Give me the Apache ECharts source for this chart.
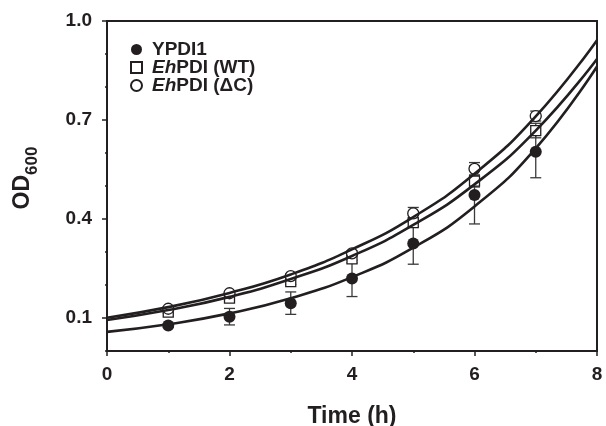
<!DOCTYPE html>
<html>
<head>
<meta charset="utf-8">
<script src="https://cdn.jsdelivr.net/npm/echarts@6/dist/echarts.min.js"></script>
<style>
  html, body { margin: 0; padding: 0; background: #fff; }
  #chart { width: 606px; height: 426px; }
</style>
</head>
<body>
<div id="chart"></div>
<script>
// measured points (mean +/- error)
var timeH = [1, 2, 3, 4, 5, 6, 7];
var ypdi1 = [0.077, 0.104, 0.145, 0.220, 0.326, 0.473, 0.604];
var ypdi1Err = [0.005, 0.025, 0.034, 0.055, 0.063, 0.088, 0.079];
var wt = [0.118, 0.160, 0.210, 0.279, 0.389, 0.515, 0.668];
var wtErr = [0.004, 0.006, 0.008, 0.012, 0.012, 0.018, 0.022];
var dc = [0.128, 0.175, 0.227, 0.296, 0.417, 0.552, 0.712];
var dcErr = [0.004, 0.005, 0.006, 0.008, 0.018, 0.019, 0.015];

var fitX = [0, 1, 2, 3, 4, 5, 6, 7, 8];
var fitYpdi1 = [0.058, 0.081, 0.114, 0.160, 0.224, 0.313, 0.438, 0.614, 0.862];
var fitWt = [0.094, 0.124, 0.164, 0.218, 0.288, 0.382, 0.505, 0.668, 0.885];
var fitDc = [0.101, 0.133, 0.176, 0.232, 0.308, 0.406, 0.537, 0.711, 0.942];

var xTicks = [0, 2, 4, 6, 8];
var yTicks = [0.1, 0.4, 0.7, 1.0];

var ink = '#231f20';
var font = 'Liberation Sans, Arial, Helvetica, sans-serif';

function pairs(xs, ys) {
  return xs.map(function (x, i) { return [x, ys[i]]; });
}
function errData(ys, es) {
  return timeH.map(function (t, i) { return [t, ys[i], es[i]]; });
}

function errRender(params, api) {
  var x = api.value(0), y = api.value(1), e = api.value(2);
  var top = api.coord([x, y + e]);
  var bot = api.coord([x, y - e]);
  var w = 5.5;
  var st = { stroke: '#3a3a3a', lineWidth: 1.3 };
  return {
    type: 'group',
    children: [
      { type: 'line', shape: { x1: top[0], y1: top[1], x2: bot[0], y2: bot[1] }, style: st },
      { type: 'line', shape: { x1: top[0] - w, y1: top[1], x2: top[0] + w, y2: top[1] }, style: st },
      { type: 'line', shape: { x1: bot[0] - w, y1: bot[1], x2: bot[0] + w, y2: bot[1] }, style: st }
    ]
  };
}

function fitLine(data) {
  return {
    type: 'line',
    data: data,
    smooth: 0.5,
    showSymbol: false,
    silent: true,
    z: 5,
    lineStyle: { color: ink, width: 2.6 },
    itemStyle: { color: ink }
  };
}

function errSeries(data) {
  return {
    type: 'custom',
    renderItem: errRender,
    data: data,
    encode: { x: 0, y: 1 },
    z: 2,
    silent: true
  };
}

var legendRich = {
  i: { fontStyle: 'italic', fontWeight: 'bold', fontSize: 19, fontFamily: font, color: ink },
  n: { fontWeight: 'bold', fontSize: 19, fontFamily: font, color: ink }
};

var chart = echarts.init(document.getElementById('chart'));
chart.setOption({
  backgroundColor: '#fff',
  animation: false,
  grid: {
    left: 107, top: 21, right: 9, bottom: 75,
    show: true, borderColor: ink, borderWidth: 2,
    outerBoundsMode: 'none'
  },
  legend: {
    orient: 'vertical',
    left: 125,
    top: 35,
    itemGap: -1,
    itemWidth: 11,
    itemHeight: 11,
    data: ['YPDI1', 'EhPDI (WT)', 'EhPDI (\u0394C)'],
    formatter: function (name) {
      if (name.indexOf('Eh') === 0) return '{i|Eh}{n|' + name.slice(2) + '}';
      return '{n|' + name + '}';
    },
    textStyle: { rich: legendRich, padding: [0, 0, 0, 5] }
  },
  xAxis: [
    {
      type: 'value', min: 0, max: 8, interval: 1,
      name: 'Time (h)', nameLocation: 'middle', nameGap: 54,
      nameTextStyle: { fontSize: 23, fontWeight: 'bold', fontFamily: font, color: ink },
      axisLine: { show: true, lineStyle: { color: ink, width: 2 } },
      axisTick: { show: true, length: 2, lineStyle: { color: ink, width: 1.5 } },
      axisLabel: { show: false },
      splitLine: { show: false }
    },
    {
      type: 'value', min: 0, max: 8, position: 'bottom',
      axisLine: { show: false },
      axisTick: { show: true, length: 5, customValues: xTicks, lineStyle: { color: ink, width: 1.5 } },
      axisLabel: {
        customValues: xTicks, margin: 14,
        fontSize: 19, fontWeight: 'bold', fontFamily: font, color: ink
      },
      splitLine: { show: false }
    }
  ],
  yAxis: [
    {
      type: 'value', min: 0, max: 1, interval: 0.1,
      name: '{a|OD}{b|600}', nameLocation: 'middle', nameGap: 66,
      nameTextStyle: {
        padding: [0, 0, 0, 16],
        rich: {
          a: { fontSize: 23, fontWeight: 'bold', fontFamily: font, color: ink, lineHeight: 36 },
          b: { fontSize: 17, fontWeight: 'bold', fontFamily: font, color: ink, lineHeight: 17, verticalAlign: 'bottom' }
        }
      },
      axisLine: { show: true, lineStyle: { color: ink, width: 2 } },
      axisTick: { show: true, length: 2, lineStyle: { color: ink, width: 1.5 } },
      axisLabel: { show: false },
      splitLine: { show: false }
    },
    {
      type: 'value', min: 0, max: 1, position: 'left',
      axisLine: { show: false },
      axisTick: { show: true, length: 5, customValues: yTicks, lineStyle: { color: ink, width: 1.5 } },
      axisLabel: {
        customValues: yTicks, margin: 15,
        formatter: function (v) { return v.toFixed(1); },
        fontSize: 19, fontWeight: 'bold', fontFamily: font, color: ink
      },
      splitLine: { show: false }
    }
  ],
  series: [
    fitLine(pairs(fitX, fitYpdi1)),
    fitLine(pairs(fitX, fitWt)),
    fitLine(pairs(fitX, fitDc)),
    errSeries(errData(ypdi1, ypdi1Err)),
    errSeries(errData(wt, wtErr)),
    errSeries(errData(dc, dcErr)),
    {
      name: 'YPDI1', type: 'scatter', data: pairs(timeH, ypdi1),
      symbol: 'circle', symbolSize: 12, z: 3,
      itemStyle: { color: ink, opacity: 1 }
    },
    {
      name: 'EhPDI (WT)', type: 'scatter', data: pairs(timeH, wt),
      symbol: 'rect', symbolSize: 10, z: 3,
      itemStyle: { color: '#fff', borderColor: ink, borderWidth: 1.3, opacity: 1 }
    },
    {
      name: 'EhPDI (\u0394C)', type: 'scatter', data: pairs(timeH, dc),
      symbol: 'circle', symbolSize: 11, z: 4,
      itemStyle: { color: '#fff', borderColor: ink, borderWidth: 1.3, opacity: 1 }
    }
  ]
});
</script>
</body>
</html>
